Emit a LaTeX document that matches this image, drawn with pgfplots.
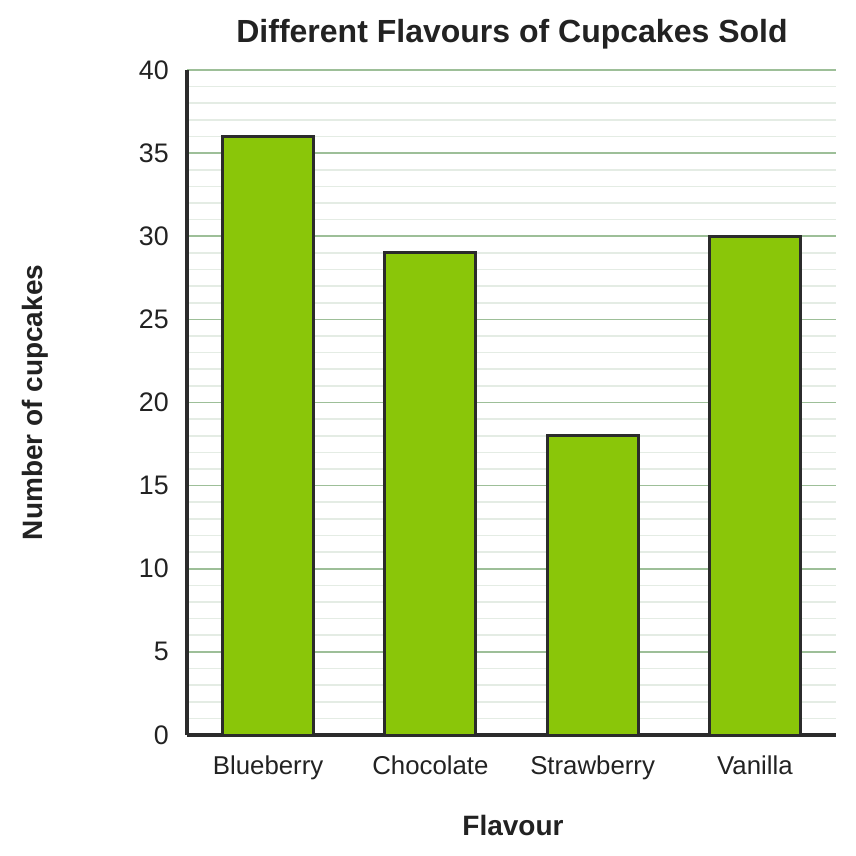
\documentclass[border=0pt]{standalone}
\usepackage{fontspec}
\setmainfont{Liberation Sans}
\usepackage{pgfplots}
\pgfplotsset{compat=1.18}
\definecolor{barfill}{HTML}{8AC609}
\definecolor{bardark}{HTML}{2B2B2B}
\definecolor{majorgrid}{HTML}{9DBF98}
\definecolor{minorgrid}{HTML}{E4ECE4}
\definecolor{textdark}{HTML}{222222}
\begin{document}
\begin{tikzpicture}[x=1pt,y=1pt]
\path[use as bounding box] (0,0) rectangle (856,855);
\begin{axis}[
  at={(187pt,120pt)}, anchor=south west,
  scale only axis, width=649pt, height=665pt,
  xmin=-0.5, xmax=3.5, ymin=0, ymax=40,
  ybar, bar width=0.56,
  axis lines*=left,
  axis line style={-, line width=3.8pt, color=bardark},
  xtick={0,1,2,3},
  xticklabels={Blueberry,Chocolate,Strawberry,Vanilla},
  ytick={0,5,...,40},
  minor ytick={1,2,3,4,6,7,8,9,11,12,13,14,16,17,18,19,21,22,23,24,26,27,28,29,31,32,33,34,36,37,38,39},
  major tick length=0pt, minor tick length=0pt,
  ymajorgrids, yminorgrids,
  major grid style={color=majorgrid, line width=1.6pt},
  minor grid style={color=minorgrid, line width=1.6pt},
  /pgf/number format/assume math mode=true,
  yticklabel style={font=\fontsize{26.8}{27}\selectfont, text=textdark, inner sep=0pt, anchor=east, xshift=-18pt},
  xticklabel style={font=\fontsize{25.8}{26}\selectfont, text=textdark, inner sep=0pt, anchor=base, yshift=-39pt},
]
\addplot[fill=barfill, draw=bardark, line width=3pt] coordinates {(0,36) (1,29) (2,18) (3,30)};
\end{axis}
\node[anchor=base, font=\bfseries\fontsize{32}{32}\selectfont, text=textdark] at (512pt,812pt) {Different Flavours of Cupcakes Sold};
\node[anchor=base, font=\bfseries\fontsize{28}{28}\selectfont, text=textdark] at (513pt,20pt) {Flavour};
\node[anchor=base, rotate=90, font=\bfseries\fontsize{28}{28}\selectfont, text=textdark] at (42pt,452.5pt) {Number of cupcakes};
\end{tikzpicture}
\end{document}
